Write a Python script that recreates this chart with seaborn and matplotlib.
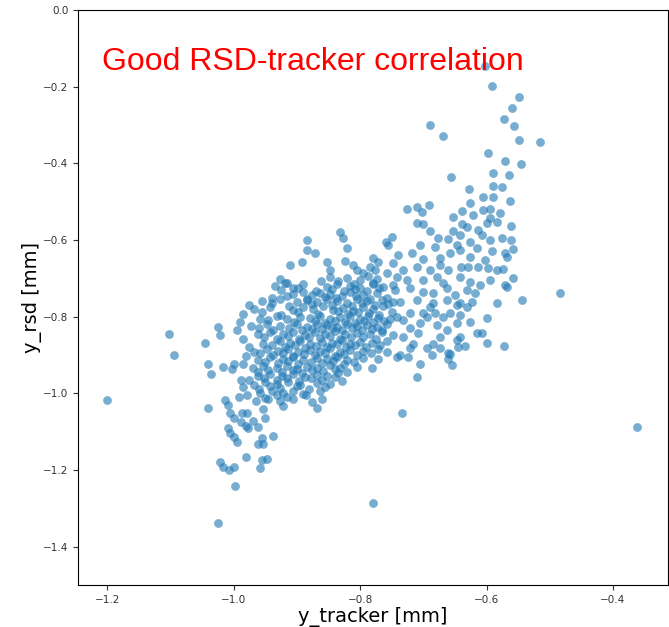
import matplotlib
matplotlib.use("Agg")
import matplotlib.pyplot as plt
import seaborn as sns
import pandas as pd

# ---- individual points (y_tracker [mm], y_rsd [mm]) ----
top_x = [-0.602, -0.591, -0.549, -0.560, -0.572, -0.557, -0.549, -0.515, -0.689, -0.669,
         -0.598, -0.571, -0.545, -0.590, -0.564, -0.656, -0.590, -0.575, -0.628]
top_y = [-0.146, -0.198, -0.227, -0.256, -0.285, -0.303, -0.339, -0.345, -0.300, -0.329,
         -0.373, -0.394, -0.402, -0.426, -0.431, -0.436, -0.460, -0.462, -0.467]

upper_x = [-0.606, -0.590, -0.563, -0.626,
           -0.726, -0.710, -0.702, -0.691, -0.639, -0.606, -0.594, -0.579,
           -0.653, -0.621, -0.594,
           -0.710, -0.700, -0.639, -0.599, -0.583, -0.561, -0.631,
           -0.689, -0.653, -0.613,
           -0.749, -0.677, -0.661, -0.642, -0.607, -0.575, -0.594, -0.561, -0.626,
           -0.705, -0.681, -0.647, -0.615, -0.558, -0.642,
           -0.591, -0.571, -0.718, -0.658,
           -0.740, -0.674, -0.626, -0.568, -0.700, -0.602,
           -0.748, -0.674,
           -0.710, -0.640, -0.629, -0.613, -0.598, -0.574, -0.583, -0.732, -0.689, -0.661,
           -0.742, -0.678, -0.642, -0.558,
           -0.726, -0.700, -0.594, -0.626, -0.669, -0.610, -0.571,
           -0.721, -0.662, -0.745, -0.631, -0.700, -0.685, -0.618, -0.650,
           -0.710, -0.662, -0.737, -0.623, -0.685, -0.642, -0.583, -0.544]
upper_y = [-0.488, -0.488, -0.499, -0.504,
           -0.520, -0.514, -0.527, -0.509, -0.525, -0.522, -0.520, -0.530,
           -0.540, -0.535, -0.543,
           -0.556, -0.559, -0.559, -0.556, -0.554, -0.564, -0.567,
           -0.577, -0.577, -0.574,
           -0.593, -0.595, -0.598, -0.587, -0.587, -0.595, -0.601, -0.601, -0.606,
           -0.614, -0.619, -0.614, -0.621, -0.624, -0.627,
           -0.629, -0.634, -0.634, -0.634,
           -0.640, -0.647, -0.645, -0.645, -0.650, -0.653,
           -0.661, -0.666,
           -0.671, -0.671, -0.671, -0.671, -0.674, -0.676, -0.679, -0.679, -0.679, -0.679,
           -0.697, -0.697, -0.697, -0.700,
           -0.705, -0.705, -0.705, -0.710, -0.713, -0.718, -0.718,
           -0.726, -0.726, -0.731, -0.731, -0.736, -0.739, -0.739, -0.744,
           -0.757, -0.757, -0.762, -0.762, -0.765, -0.765, -0.765, -0.757]

mid_x = [-0.759, -0.756, -0.779, -0.771, -0.784, -0.776, -0.757, -0.795,
         -0.647, -0.631, -0.689, -0.658, -0.721, -0.700, -0.681, -0.642, -0.669, -0.694,
         -0.732, -0.705, -0.647, -0.626, -0.678, -0.721, -0.662, -0.708, -0.615, -0.607,
         -0.732, -0.674, -0.642, -0.568, -0.599,
         -0.832, -0.827, -0.884, -0.884, -0.871, -0.820, -0.911, -0.892, -0.852, -0.824,
         -0.811, -0.847, -0.805, -1.025, -1.021]
mid_y = [-0.606, -0.614, -0.647, -0.658, -0.671, -0.679, -0.687, -0.687,
         -0.770, -0.775, -0.775, -0.791, -0.791, -0.791, -0.791, -0.796, -0.802, -0.802,
         -0.809, -0.817, -0.817, -0.815, -0.822, -0.830, -0.836, -0.843, -0.843, -0.843,
         -0.854, -0.854, -0.854, -0.723, -0.804,
         -0.580, -0.595, -0.601, -0.627, -0.634, -0.621, -0.666, -0.658, -0.658, -0.655,
         -0.666, -0.679, -0.679, -0.828, -0.849]

low_x = [-1.045, -1.040, -1.036, -1.016, -1.000, -1.002, -1.041, -0.989, -0.985, -1.013,
         -1.009, -0.992, -0.978, -1.005, -1.000, -0.986, -0.978, -0.989, -0.970, -0.981,
         -0.977, -0.961, -1.009, -1.005, -1.000, -0.994, -0.955, -0.953, -0.961, -0.938,
         -0.981, -1.021, -1.016, -1.008, -1.000, -0.955, -0.947, -0.958, -0.997, -1.024,
         -0.950,
         -0.737, -0.724, -0.721, -0.716, -0.705, -0.710, -0.694, -0.686, -0.685, -0.674,
         -0.661, -0.658, -0.661, -0.655, -0.645, -0.634, -0.647, -0.599, -0.572, -0.734]
low_y = [-0.869, -0.924, -0.950, -0.930, -0.924, -0.937, -1.039, -0.966, -0.984, -1.018,
         -1.031, -1.010, -1.005, -1.050, -1.065, -1.052, -1.052, -1.076, -1.071, -1.084,
         -1.091, -1.089, -1.091, -1.104, -1.115, -1.128, -1.117, -1.131, -1.131, -1.110,
         -1.167, -1.180, -1.193, -1.201, -1.193, -1.175, -1.170, -1.196, -1.243, -1.337,
         -1.065,
         -0.901, -0.906, -0.883, -0.872, -0.924, -0.958, -0.883, -0.901, -0.872, -0.883,
         -0.896, -0.898, -0.911, -0.927, -0.880, -0.877, -0.862, -0.869, -0.877, -1.050]

outlier_x = [-1.200, -1.102, -1.094, -0.362, -0.484, -0.779]
outlier_y = [-1.018, -0.846, -0.901, -1.089, -0.739, -1.285]

# ---- dense core, read band by band (x values and their y values) ----
core_x_rows = [
    [-0.926, -0.847, -0.835, -0.821, -0.800, -0.787, -0.773],
    [-0.918, -0.862, -0.810, -0.780],
    [-0.934, -0.915, -0.906, -0.890, -0.852, -0.836, -0.816, -0.800, -0.779, -0.763, -0.748],
    [-0.925, -0.898, -0.870, -0.844, -0.826, -0.808, -0.789, -0.770],
    [-0.906, -0.890, -0.876, -0.863, -0.847, -0.828, -0.816, -0.795, -0.773],
    [-0.940, -0.915, -0.884, -0.856, -0.838, -0.806, -0.784, -0.758],
    [-0.955, -0.926, -0.900, -0.884, -0.868, -0.852, -0.836, -0.821, -0.805, -0.789, -0.765, -0.748],
    [-0.975, -0.940, -0.912, -0.876, -0.844, -0.813, -0.797, -0.777, -0.755],
    [-0.968, -0.942, -0.906, -0.890, -0.874, -0.859, -0.843, -0.827, -0.811, -0.795, -0.779, -0.763],
    [-0.985, -0.955, -0.925, -0.898, -0.866, -0.835, -0.819, -0.803, -0.786, -0.770, -0.750],
    [-0.958, -0.931, -0.915, -0.895, -0.879, -0.863, -0.847, -0.832, -0.816, -0.800, -0.787, -0.771, -0.753, -0.742],
    [-0.990, -0.945, -0.905, -0.872, -0.855, -0.839, -0.824, -0.808, -0.793, -0.779, -0.762],
    [-0.973, -0.947, -0.926, -0.900, -0.884, -0.868, -0.852, -0.836, -0.821, -0.805, -0.789, -0.773, -0.757],
    [-0.995, -0.960, -0.937, -0.912, -0.892, -0.876, -0.860, -0.844, -0.828, -0.813, -0.797, -0.781, -0.765],
    [-0.962, -0.942, -0.922, -0.906, -0.887, -0.871, -0.855, -0.840, -0.824, -0.805, -0.784, -0.765, -0.748],
    [-0.985, -0.952, -0.932, -0.914, -0.897, -0.880, -0.863, -0.848, -0.832, -0.815, -0.795, -0.775],
    [-0.953, -0.926, -0.911, -0.895, -0.879, -0.860, -0.844, -0.828, -0.816, -0.800, -0.781, -0.757],
    [-0.975, -0.940, -0.918, -0.903, -0.887, -0.870, -0.852, -0.836, -0.822, -0.808, -0.790, -0.768],
    [-0.968, -0.947, -0.930, -0.914, -0.898, -0.879, -0.863, -0.847, -0.832, -0.816, -0.795, -0.771, -0.757],
    [-0.980, -0.958, -0.938, -0.922, -0.906, -0.888, -0.871, -0.856, -0.840, -0.826, -0.805, -0.783],
    [-0.962, -0.942, -0.922, -0.906, -0.890, -0.868, -0.852, -0.836, -0.821, -0.795, -0.771, -0.742],
    [-0.985, -0.950, -0.930, -0.914, -0.898, -0.878, -0.860, -0.843, -0.826, -0.810],
    [-0.970, -0.953, -0.931, -0.915, -0.900, -0.884, -0.868, -0.847, -0.832, -0.805, -0.781],
    [-0.962, -0.945, -0.923, -0.906, -0.892, -0.876, -0.858, -0.840, -0.820],
    [-0.961, -0.942, -0.923, -0.906, -0.887, -0.868, -0.852, -0.835],
    [-0.975, -0.952, -0.932, -0.915, -0.897, -0.878, -0.860, -0.840],
    [-0.968, -0.950, -0.931, -0.914, -0.895, -0.868, -0.847, -0.828],
    [-0.960, -0.942, -0.926, -0.900, -0.880, -0.855],
    [-0.958, -0.939, -0.922, -0.906, -0.890, -0.863],
    [-0.950, -0.932, -0.915, -0.885],
    [-0.965, -0.945, -0.926, -0.906, -0.876, -0.860],
    [-0.953, -0.922, -0.868],
]
core_y_rows = [
    [-0.703, -0.696, -0.708, -0.699, -0.705, -0.694, -0.702],
    [-0.712, -0.706, -0.714, -0.711],
    [-0.721, -0.713, -0.724, -0.716, -0.722, -0.714, -0.720, -0.726, -0.715, -0.723, -0.717],
    [-0.731, -0.725, -0.733, -0.727, -0.734, -0.729, -0.732, -0.726],
    [-0.742, -0.735, -0.744, -0.737, -0.741, -0.746, -0.736, -0.743, -0.738],
    [-0.751, -0.746, -0.753, -0.749, -0.752, -0.747, -0.754, -0.750],
    [-0.760, -0.754, -0.762, -0.756, -0.761, -0.753, -0.759, -0.764, -0.755, -0.760, -0.757, -0.763],
    [-0.770, -0.765, -0.771, -0.766, -0.769, -0.772, -0.764, -0.770, -0.767],
    [-0.781, -0.774, -0.783, -0.776, -0.780, -0.773, -0.782, -0.777, -0.784, -0.775, -0.779, -0.772],
    [-0.793, -0.787, -0.795, -0.789, -0.792, -0.786, -0.794, -0.788, -0.791, -0.796, -0.789],
    [-0.805, -0.798, -0.806, -0.800, -0.804, -0.797, -0.807, -0.801, -0.799, -0.805, -0.798, -0.803, -0.806, -0.800],
    [-0.815, -0.809, -0.814, -0.810, -0.816, -0.811, -0.813, -0.817, -0.810, -0.814, -0.812],
    [-0.825, -0.819, -0.824, -0.818, -0.826, -0.820, -0.823, -0.827, -0.819, -0.824, -0.821, -0.826, -0.818],
    [-0.835, -0.829, -0.834, -0.830, -0.836, -0.831, -0.833, -0.829, -0.835, -0.830, -0.834, -0.832, -0.836],
    [-0.846, -0.840, -0.845, -0.839, -0.847, -0.841, -0.844, -0.838, -0.846, -0.842, -0.845, -0.840, -0.847],
    [-0.858, -0.852, -0.857, -0.851, -0.859, -0.853, -0.856, -0.850, -0.858, -0.854, -0.852, -0.857],
    [-0.870, -0.864, -0.869, -0.863, -0.871, -0.865, -0.868, -0.862, -0.870, -0.866, -0.869, -0.864],
    [-0.880, -0.874, -0.879, -0.873, -0.881, -0.876, -0.878, -0.872, -0.880, -0.875, -0.879, -0.874],
    [-0.891, -0.885, -0.890, -0.884, -0.892, -0.886, -0.889, -0.883, -0.891, -0.887, -0.890, -0.885, -0.892],
    [-0.902, -0.896, -0.901, -0.895, -0.903, -0.897, -0.900, -0.894, -0.902, -0.898, -0.901, -0.896],
    [-0.912, -0.906, -0.911, -0.905, -0.913, -0.907, -0.910, -0.904, -0.912, -0.908, -0.911, -0.906],
    [-0.923, -0.917, -0.922, -0.916, -0.924, -0.918, -0.921, -0.915, -0.923, -0.919],
    [-0.935, -0.929, -0.934, -0.928, -0.936, -0.930, -0.933, -0.927, -0.935, -0.931, -0.934],
    [-0.945, -0.939, -0.944, -0.938, -0.946, -0.940, -0.943, -0.937, -0.945],
    [-0.956, -0.950, -0.955, -0.949, -0.957, -0.951, -0.954, -0.948],
    [-0.966, -0.960, -0.965, -0.959, -0.967, -0.961, -0.964, -0.958],
    [-0.977, -0.971, -0.976, -0.970, -0.978, -0.972, -0.975, -0.969],
    [-0.988, -0.982, -0.987, -0.981, -0.989, -0.983],
    [-1.000, -0.994, -0.999, -0.993, -1.001, -0.995],
    [-1.011, -1.005, -1.010, -1.004],
    [-1.021, -1.015, -1.020, -1.014, -1.022, -1.016],
    [-1.040, -1.034, -1.039],
]

x_ticks = [-1.2, -1.0, -0.8, -0.6, -0.4]
y_ticks = [0.0, -0.2, -0.4, -0.6, -0.8, -1.0, -1.2, -1.4]
title_text = "Good RSD-tracker correlation"

core_x = [v for row in core_x_rows for v in row]
core_y = [v for row in core_y_rows for v in row]

df = pd.DataFrame({
    "y_tracker": top_x + upper_x + mid_x + low_x + outlier_x + core_x,
    "y_rsd": top_y + upper_y + mid_y + low_y + outlier_y + core_y,
})

fig = plt.figure(figsize=(6.69, 6.27), dpi=100)
ax = fig.add_axes([0.1166, 0.067, 0.8819, 0.917])
sns.scatterplot(data=df, x="y_tracker", y="y_rsd", ax=ax, s=40,
                color="#1f77b4", alpha=0.6, linewidth=0)
ax.set_xlim(-1.246, -0.313)
ax.set_ylim(-1.5, 0.0)
ax.set_xticks(x_ticks)
ax.set_yticks(y_ticks)
ax.tick_params(labelsize=7.5, colors="#333333", length=3.5)
ax.set_xlabel("y_tracker [mm]", fontsize=14, labelpad=2)
ax.set_ylabel("y_rsd [mm]", fontsize=14, labelpad=0.5)
ax.text(-1.208, -0.157, title_text, color="red", fontsize=23,
        family=["Liberation Sans", "DejaVu Sans"])
fig.savefig("out.png", dpi=100)
